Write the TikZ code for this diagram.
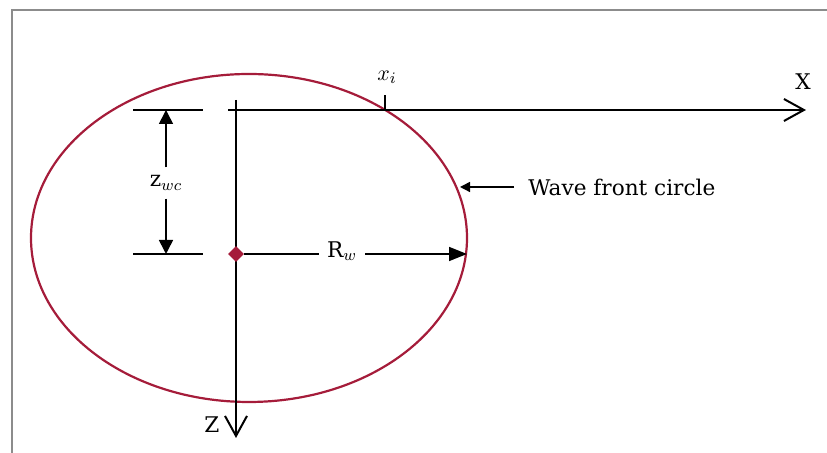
\documentclass[tikz,border=0pt]{standalone}
\usepackage{fontspec}
\setmainfont{DejaVu Serif}
\usetikzlibrary{arrows.meta,positioning,calc,shapes.geometric}
\definecolor{wavered}{HTML}{A51C3A}
\definecolor{framegray}{HTML}{8C8C8C}

\tikzset{
  axisline/.style={line width=1pt, -{Straight Barb[length=10pt,width=11pt,line width=1pt]}},
  dimline/.style={line width=0.8pt},
  dimarrow/.style={line width=0.8pt, -{Triangle[length=7pt,width=7pt]}},
  lbl/.style={inner sep=1pt, font=\fontsize{10.8}{13}\selectfont},
}

\begin{document}
\begin{tikzpicture}[x=0.5pt,y=-0.5pt]
  \useasboundingbox (0,0) rectangle (827,453);
  % frame, only its top and left sides show
  \draw[framegray, line width=1.3pt] (12,453) -- (12,10) -- (827,10);

  % wave front circle
  \draw[wavered, line width=1.1pt] (249,238) ellipse (218 and 164);

  % axes
  \coordinate (xstart) at (228,110);
  \coordinate (xend) at (806,110);
  \coordinate (zstart) at (236,100);
  \coordinate (zend) at (236,438);
  \draw[axisline] (xstart) -- (xend);
  \draw[axisline] (zstart) -- (zend);
  \node[lbl] (X) at (803,82) {X};
  \node[lbl] (Z) at (212,425) {Z};

  % intersection tick
  \coordinate (xi0) at (385,110);
  \coordinate (xi1) at (385,95);
  \draw[line width=0.8pt] (xi0) -- (xi1);
  \node[lbl] (xi) at (387,77) {$x_i$};

  % depth of the circle centre
  \coordinate (d1a) at (133,110);
  \coordinate (d1b) at (203,110);
  \coordinate (d2a) at (133,254);
  \coordinate (d2b) at (203,254);
  \coordinate (dtop) at (166,110);
  \coordinate (dbot) at (166,254);
  \draw[dimline] (d1a) -- (d1b);
  \draw[dimline] (d2a) -- (d2b);
  \node[lbl, inner sep=4pt] (zwc) at (166,183) {z$_{wc}$};
  \draw[dimarrow] (zwc) -- (dtop);
  \draw[dimarrow] (zwc) -- (dbot);

  % radius
  \node[diamond, fill=wavered, inner sep=0pt, minimum size=8pt] (dot) at (236,254) {};
  \coordinate (rend) at (467,254);
  \node[lbl, inner sep=4pt] (Rw) at (342,251) {R$_w$};
  \draw[dimline] (dot) -- (Rw.west |- dot);
  \draw[dimline, -{Triangle[length=9pt,width=7pt]}] (Rw.east |- dot) -- (rend);

  % label of the circle
  \node[lbl, anchor=west] (wfc) at (526,187) {Wave front circle};
  \coordinate (wfcpt) at (460,187);
  \draw[line width=0.7pt, -{Triangle[length=5pt,width=5pt]}, shorten <=6pt] (wfc.west) -- (wfcpt);
\end{tikzpicture}
\end{document}
